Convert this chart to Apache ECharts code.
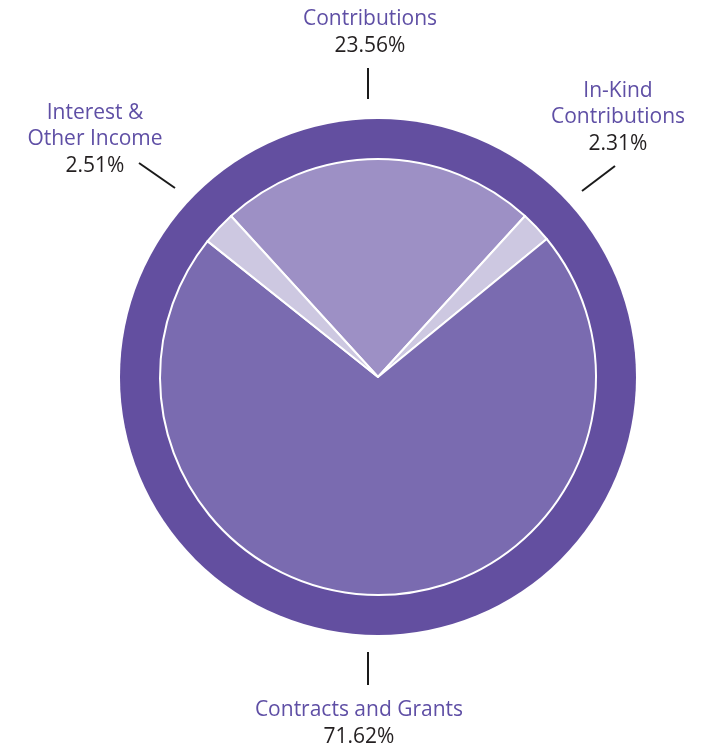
<!DOCTYPE html>
<html>
<head>
<meta charset="utf-8">
<script src="https://cdn.jsdelivr.net/npm/echarts@6/dist/echarts.min.js"></script>
<style>
html,body{margin:0;padding:0;background:#fff;}
#chart{width:719px;height:749px;}
</style>
</head>
<body>
<div id="chart"></div>
<script>
// Data
var categories = ['Contributions', 'In-Kind\nContributions', 'Contracts and Grants', 'Interest &\nOther Income'];
var shares = [23.56, 2.31, 71.62, 2.51];

// Styles / layout (not data)
var sliceColors = ['#9d90c5', '#cdc8e1', '#7a6bb0', '#cdc8e1'];
var ringColor = '#634fa0';
var labelPos = [[370, 33], [618, 118], [359, 724], [95, 140]];
var linePts = [
  [[368, 68], [368, 99]],
  [[615, 166], [582, 191]],
  [[368, 652], [368, 685]],
  [[139, 163], [175, 188]]
];

var center = [378, 377];
var startAngle = 90 + shares[0] / 100 * 360 / 2;

var chart = echarts.init(document.getElementById('chart'));
chart.setOption({
  animation: false,
  backgroundColor: '#ffffff',
  series: [
    {
      type: 'pie',
      silent: true,
      center: center,
      radius: [0, 258],
      label: { show: false },
      labelLine: { show: false },
      itemStyle: { color: ringColor },
      data: [{ value: 1, name: 'ring' }]
    },
    {
      type: 'pie',
      center: center,
      radius: [0, 218],
      startAngle: startAngle,
      clockwise: true,
      avoidLabelOverlap: false,
      itemStyle: { borderColor: '#ffffff', borderWidth: 2 },
      label: {
        show: true,
        position: 'outside',
        formatter: function (p) {
          var lines = p.name.split('\n').map(function (s) { return '{n|' + s + '}'; });
          return lines.join('\n') + '\n{p|' + p.value.toFixed(2) + '%}';
        },
        rich: {
          n: { fontFamily: 'Open Sans', fontSize: 21, color: '#5f4fa5', lineHeight: 26, align: 'center' },
          p: { fontFamily: 'Open Sans', fontSize: 21, color: '#231f20', lineHeight: 27, align: 'center' }
        }
      },
      labelLine: { show: true, lineStyle: { color: '#1a1a1a', width: 2 } },
      labelLayout: function (params) {
        var i = params.dataIndex;
        var pts = linePts[i];
        return {
          x: labelPos[i][0],
          y: labelPos[i][1],
          align: 'center',
          verticalAlign: 'middle',
          labelLinePoints: [pts[0], pts[1], pts[1]]
        };
      },
      data: categories.map(function (c, i) {
        return { name: c, value: shares[i], itemStyle: { color: sliceColors[i] } };
      })
    }
  ]
});
</script>
</body>
</html>
